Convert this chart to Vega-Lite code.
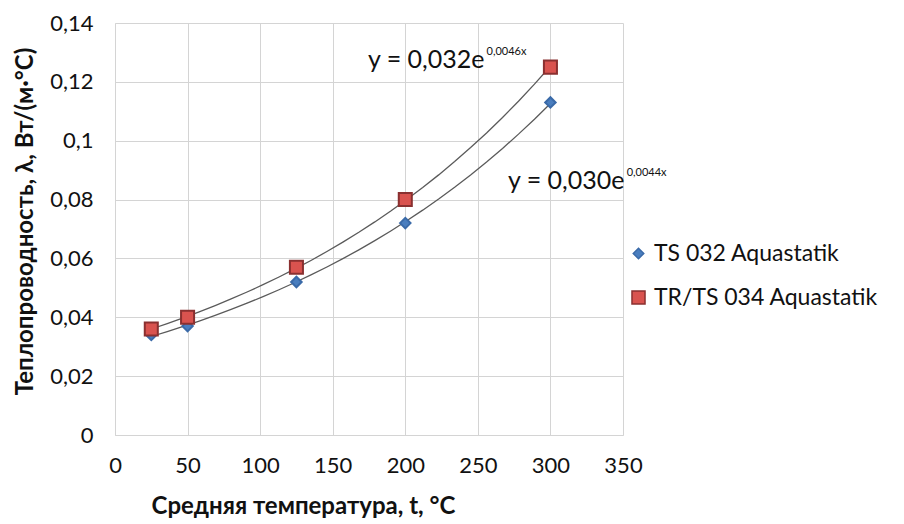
{
  "$schema": "https://vega.github.io/schema/vega-lite/v6.json",
  "width": 508,
  "height": 412,
  "autosize": {"type": "none"},
  "padding": {"left": 115, "top": 23, "right": 281, "bottom": 89},
  "background": "white",
  "config": {
    "font": "Lato",
    "view": {"stroke": null},
    "axis": {
      "gridColor": "#d4d4d4",
      "domainColor": "#d4d4d4",
      "ticks": false,
      "labelFlush": false,
      "labelFont": "Lato",
      "labelFontSize": 22,
      "labelColor": "#111",
      "titleFont": "Lato",
      "titleFontWeight": "bold",
      "titleFontSize": 24,
      "titleColor": "#111"
    }
  },
  "datasets": {
    "points": [
      {"t": 25, "lambda": 0.034, "series": "TS 032 Aquastatik"},
      {"t": 50, "lambda": 0.037, "series": "TS 032 Aquastatik"},
      {"t": 125, "lambda": 0.052, "series": "TS 032 Aquastatik"},
      {"t": 200, "lambda": 0.072, "series": "TS 032 Aquastatik"},
      {"t": 300, "lambda": 0.113, "series": "TS 032 Aquastatik"},
      {"t": 25, "lambda": 0.036, "series": "TR/TS 034 Aquastatik"},
      {"t": 50, "lambda": 0.040, "series": "TR/TS 034 Aquastatik"},
      {"t": 125, "lambda": 0.057, "series": "TR/TS 034 Aquastatik"},
      {"t": 200, "lambda": 0.080, "series": "TR/TS 034 Aquastatik"},
      {"t": 300, "lambda": 0.125, "series": "TR/TS 034 Aquastatik"}
    ],
    "labels": [
      {"t": 174.3, "lambda": 0.1274, "part": "base", "text": "y = 0,032e"},
      {"t": 256, "lambda": 0.1303, "part": "exp", "text": "0,0046x"},
      {"t": 270.8, "lambda": 0.0863, "part": "base", "text": "y = 0,030e"},
      {"t": 352.5, "lambda": 0.0890, "part": "exp", "text": "0,0044x"}
    ]
  },
  "layer": [
    {
      "data": {"name": "points"},
      "transform": [
        {"regression": "lambda", "on": "t", "groupby": ["series"], "method": "exp"}
      ],
      "mark": {"type": "line", "color": "#5a5a5a", "strokeWidth": 1.3},
      "encoding": {
        "x": {"field": "t", "type": "quantitative",
              "scale": {"domain": [0, 350], "nice": false},
              "axis": {"values": [0, 50, 100, 150, 200, 250, 300, 350], "labelPadding": 20,
                       "title": "Средняя температура, t, °C", "titlePadding": 18, "titleX": 188}},
        "y": {"field": "lambda", "type": "quantitative",
              "scale": {"domain": [0, 0.14], "nice": false},
              "axis": {"values": [0, 0.02, 0.04, 0.06, 0.08, 0.1, 0.12, 0.14], "labelPadding": 22,
                       "labelExpr": "replace(format(datum.value, '.2~f'), '.', ',')",
                       "title": "Теплопроводность, λ, Вт/(м·°С)", "titlePadding": 12, "titleY": 198}},
        "detail": {"field": "series"}
      }
    },
    {
      "data": {"name": "points"},
      "mark": {"type": "point", "filled": true, "opacity": 1},
      "encoding": {
        "x": {"field": "t", "type": "quantitative", "scale": {"domain": [0, 350], "nice": false}},
        "y": {"field": "lambda", "type": "quantitative", "scale": {"domain": [0, 0.14], "nice": false}},
        "color": {"field": "series", "type": "nominal",
                  "scale": {"domain": ["TS 032 Aquastatik", "TR/TS 034 Aquastatik"], "range": ["#4a7ebf", "#d9534f"]},
                  "legend": {"title": null, "orient": "none", "legendX": 512, "legendY": 219,
                             "labelFont": "Lato", "labelFontSize": 23, "labelColor": "#111", "labelLimit": 0,
                             "rowPadding": 20, "symbolSize": 120, "labelOffset": 4}},
        "shape": {"field": "series", "type": "nominal",
                  "scale": {"domain": ["TS 032 Aquastatik", "TR/TS 034 Aquastatik"], "range": ["diamond", "square"]},
                  "legend": null},
        "size": {"field": "series", "type": "nominal",
                 "scale": {"domain": ["TS 032 Aquastatik", "TR/TS 034 Aquastatik"], "range": [110, 170]},
                 "legend": null},
        "stroke": {"field": "series", "type": "nominal",
                   "scale": {"domain": ["TS 032 Aquastatik", "TR/TS 034 Aquastatik"], "range": ["#3a6aa8", "#8a3030"]},
                   "legend": null}
      }
    },
    {
      "data": {"name": "labels"},
      "transform": [{"filter": "datum.part === 'base'"}],
      "mark": {"type": "text", "align": "left", "baseline": "middle", "font": "Lato", "fontSize": 25, "color": "#111"},
      "encoding": {
        "x": {"field": "t", "type": "quantitative", "scale": {"domain": [0, 350], "nice": false}},
        "y": {"field": "lambda", "type": "quantitative", "scale": {"domain": [0, 0.14], "nice": false}},
        "text": {"field": "text"}
      }
    },
    {
      "data": {"name": "labels"},
      "transform": [{"filter": "datum.part === 'exp'"}],
      "mark": {"type": "text", "align": "left", "baseline": "middle", "font": "Lato", "fontSize": 11, "color": "#111"},
      "encoding": {
        "x": {"field": "t", "type": "quantitative", "scale": {"domain": [0, 350], "nice": false}},
        "y": {"field": "lambda", "type": "quantitative", "scale": {"domain": [0, 0.14], "nice": false}},
        "text": {"field": "text"}
      }
    }
  ]
}
